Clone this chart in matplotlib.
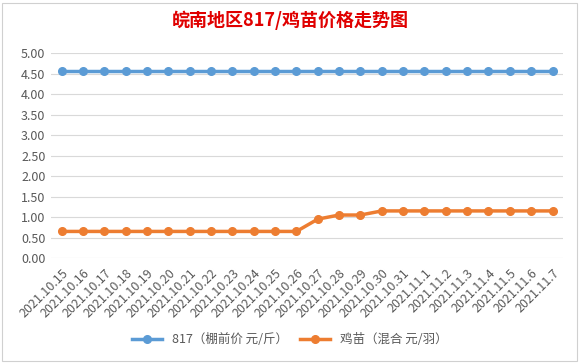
import matplotlib.pyplot as plt
from matplotlib.patches import Rectangle

plt.rcParams['font.family'] = ['Noto Sans CJK SC', 'DejaVu Sans']

# data
dates = ["2021.10.15", "2021.10.16", "2021.10.17", "2021.10.18", "2021.10.19",
         "2021.10.20", "2021.10.21", "2021.10.22", "2021.10.23", "2021.10.24",
         "2021.10.25", "2021.10.26", "2021.10.27", "2021.10.28", "2021.10.29",
         "2021.10.30", "2021.10.31", "2021.11.1", "2021.11.2", "2021.11.3",
         "2021.11.4", "2021.11.5", "2021.11.6", "2021.11.7"]
price_817 = [4.56] * 24
price_chick = [0.65, 0.65, 0.65, 0.65, 0.65, 0.65, 0.65, 0.65, 0.65, 0.65,
               0.65, 0.65, 0.95, 1.05, 1.05, 1.15, 1.15, 1.15, 1.15, 1.15,
               1.15, 1.15, 1.15, 1.15]
label_817 = "817（棚前价 元/斤）"
label_chick = "鸡苗（混合 元/羽）"

fig = plt.figure(figsize=(5.8, 3.63), dpi=100)
fig.patches.append(Rectangle((0.004, 0.006), 0.991, 0.985, transform=fig.transFigure,
                             facecolor="white", edgecolor="#d0d0d0", lw=0.8, zorder=-10))
ax = fig.add_axes([0.088, 0.289, 0.883, 0.565])

x = range(len(dates))
ax.plot(x, price_817, color="#5B9BD5", lw=2.5, marker="o", ms=5.5, label=label_817)
ax.plot(x, price_chick, color="#ED7D31", lw=2.5, marker="o", ms=5.5, label=label_chick)

ax.set_xlim(-0.5, len(dates) - 0.5)
ax.set_ylim(0, 5)
ax.set_yticks([i * 0.5 for i in range(11)])
ax.set_yticklabels([f"{i * 0.5:.2f}" for i in range(11)])
ax.set_xticks(list(x))
ax.set_xticklabels(dates, rotation=45, ha="right", rotation_mode="anchor")
ax.tick_params(axis="both", length=0, labelsize=9, colors="#595959", pad=4)
ax.tick_params(axis="x", pad=6)
ax.grid(axis="y", color="#d9d9d9", lw=0.8)
ax.set_axisbelow(True)
for s in ax.spines.values():
    s.set_visible(False)
ax.set_facecolor("none")

fig.text(0.5, 0.943, "皖南地区817/鸡苗价格走势图", ha="center", va="center",
         fontsize=13, fontweight="bold", color="#E00000")

fig.legend(loc="center", bbox_to_anchor=(0.5, 0.065), ncol=2, frameon=False,
           fontsize=9, labelcolor="#595959", handlelength=2.4, columnspacing=1.0)

fig.savefig("out.png", dpi=100)
